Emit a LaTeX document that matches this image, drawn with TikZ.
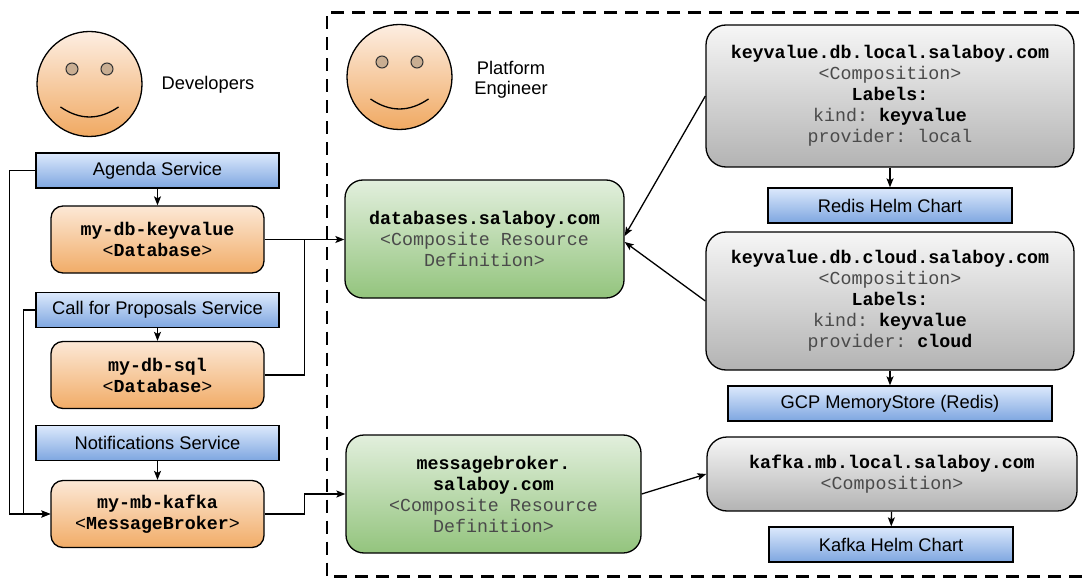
\documentclass[tikz,border=0pt]{standalone}
\usepackage{fontspec}
\setmainfont{Liberation Sans}
\newfontfamily\codefont{Liberation Mono}
\usetikzlibrary{arrows.meta,calc}

\newcommand\diagsize{\fontsize{18.3}{21}\selectfont\frenchspacing}

\definecolor{blueTop}{HTML}{DCE9FC}
\definecolor{blueBot}{HTML}{7EA6E0}
\definecolor{orTop}{HTML}{FCE8D6}
\definecolor{orBot}{HTML}{F1AC67}
\definecolor{grTop}{HTML}{E2EFDD}
\definecolor{grBot}{HTML}{93C47D}
\definecolor{gyTop}{HTML}{F6F6F6}
\definecolor{gyBot}{HTML}{B3B3B3}
\definecolor{faceTop}{HTML}{FDEEE2}
\definecolor{faceBot}{HTML}{F0A962}
\definecolor{eyeFill}{HTML}{C9AE92}
\definecolor{subtext}{HTML}{4A4A4A}

\begin{document}
\begin{tikzpicture}[x=1pt, y=-1pt, line width=1.3pt,
  font=\diagsize,
  box/.style={draw=black, line width=1.3pt, inner sep=0pt, align=center},
  svc/.style={box, top color=blueTop, bottom color=blueBot, minimum height=35pt},
  res/.style={box, rounded corners=12pt, top color=orTop, bottom color=orBot,
    minimum width=213pt, minimum height=67pt, font=\codefont\diagsize},
  xrd/.style={box, rounded corners=18pt, top color=grTop, bottom color=grBot,
    minimum height=118pt, font=\codefont\diagsize},
  comp/.style={box, rounded corners=20pt, top color=gyTop, bottom color=gyBot,
    minimum width=368pt, font=\codefont\diagsize},
  face/.style={circle, draw=black, line width=1.3pt, minimum size=105pt,
    inner sep=0pt, top color=faceTop, bottom color=faceBot},
  eye/.style={circle, draw=black!80, line width=1pt, minimum size=12pt,
    inner sep=0pt, fill=eyeFill},
  arr/.style={-{Stealth[length=9pt,width=7pt,inset=2pt]}},
  frame/.style={line width=2.6pt, dash pattern=on 13pt off 8pt},
]
\useasboundingbox (0,0) rectangle (1087,580);

% platform team area
\draw[frame] (1100,12.5) -- (327,12.5) -- (327,576.5) -- (1100,576.5);

% developer face
\begin{scope}[shift={(89.5,84)}]
  \node[face] (devface) at (0,0) {};
  \node[eye] (deveyel) at (-17.5,-15) {};
  \node[eye] (deveyer) at (17.5,-15) {};
  \draw (-29,23) .. controls (-9.5,36.3) and (9.5,36.3) .. (29,23);
\end{scope}
\node (devlabel) at (208,85) {Developers};

% platform engineer face
\begin{scope}[shift={(399.5,77)}]
  \node[face] (peface) at (0,0) {};
  \node[eye] (peeyel) at (-17.5,-15) {};
  \node[eye] (peeyer) at (17.5,-15) {};
  \draw (-29,22) .. controls (-9.5,35.3) and (9.5,35.3) .. (29,22);
\end{scope}
\node[align=center, font=\fontsize{18.3}{20}\selectfont] (pelabel) at (511,80) {Platform\\Engineer};

% developer services and their resources
\node[svc, minimum width=243pt] (agenda) at (157.5,170.5) {Agenda Service};
\node[res] (kv) at (157.5,239.5) {\bfseries my-db-keyvalue\\\textless\textbf{Database}\textgreater};
\node[svc, minimum width=243pt] (cfp) at (157.5,310) {Call for Proposals Service};
\node[res] (sql) at (157.5,375) {\bfseries my-db-sql\\\textless\textbf{Database}\textgreater};
\node[svc, minimum width=243pt] (notif) at (157.5,443) {Notifications Service};
\node[res] (kafka) at (157.5,514) {\bfseries my-mb-kafka\\\textless\textbf{MessageBroker}\textgreater};

% composite resource definitions
\node[xrd, minimum width=279pt] (dbs) at (484.5,239)
  {\textbf{databases.salaboy.com}\\\color{subtext}\textless Composite Resource\\\color{subtext}Definition\textgreater};
\node[xrd, minimum width=295pt] (mb) at (493.5,494)
  {\textbf{messagebroker.}\\\textbf{salaboy.com}\\\color{subtext}\textless Composite Resource\\\color{subtext}Definition\textgreater};

% compositions
\node[comp, minimum height=142pt] (kvl) at (890,96)
  {\textbf{keyvalue.db.local.salaboy.com}\\
   \color{subtext}\textless Composition\textgreater\\
   \textbf{Labels:}\\
   \textcolor{subtext}{kind:} \textbf{keyvalue}\\
   \color{subtext}provider: local};
\node[comp, minimum height=138pt] (kvc) at (890,301)
  {\textbf{keyvalue.db.cloud.salaboy.com}\\
   \color{subtext}\textless Composition\textgreater\\
   \textbf{Labels:}\\
   \textcolor{subtext}{kind:} \textbf{keyvalue}\\
   \textcolor{subtext}{provider:} \textbf{cloud}};
\node[comp, minimum width=370pt, minimum height=74pt] (kc) at (892,474)
  {\textbf{kafka.mb.local.salaboy.com}\\\color{subtext}\textless Composition\textgreater};

% provisioned infrastructure
\node[svc, minimum width=244pt] (redis) at (890,205.5) {Redis Helm Chart};
\node[svc, minimum width=324pt] (gcp) at (890,403.5) {GCP MemoryStore (Redis)};
\node[svc, minimum width=244pt] (kh) at (891,544.5) {Kafka Helm Chart};

% connectors
\draw[arr] (agenda) -- (kv);
\draw[arr] (cfp) -- (sql);
\draw[arr] (notif) -- (kafka);
\draw[arr] (agenda.west) -- ++(-26,0) |- (kafka.west);
\draw[arr] (cfp.west) -- ++(-12,0) |- (kafka.west);

\coordinate (dbjoin) at ($(kv.east)+(40,0)$);
\draw[arr] (kv.east) -- (kv.east -| dbs.west);
\draw (sql.east) -| (dbjoin);
\draw[arr] (kafka.east) -- ++(40,0) |- (mb.west);

\draw[arr] (kvl.west) -- ($(dbs.east)+(0,-3)$);
\draw[arr] (kvc.west) -- ($(dbs.east)+(0,3)$);
\draw[arr] (mb.east) -- (kc.west);

\draw[arr] (kvl) -- (redis);
\draw[arr] (kvc) -- (gcp);
\draw[arr] (kc) -- (kh);
\end{tikzpicture}
\end{document}
